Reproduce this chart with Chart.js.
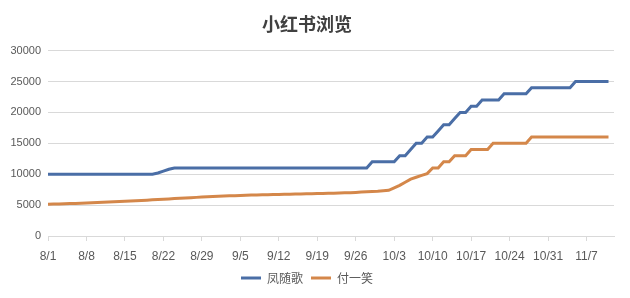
<!DOCTYPE html>
<html><head><meta charset="utf-8">
<script src="https://cdn.jsdelivr.net/npm/chart.js@4/dist/chart.umd.min.js"></script>
<style>html,body{margin:0;padding:0;background:#fff;}#wrap{position:relative;width:630px;height:298px;}</style>
</head><body><div id="wrap"><canvas id="c" width="630" height="298"></canvas></div>
<script>
const title = "小红书浏览";
const seriesNames = ["凤随歌", "付一笑"];
const categories = [
"8/1","8/2","8/3","8/4","8/5","8/6","8/7","8/8","8/9","8/10","8/11","8/12","8/13","8/14","8/15","8/16","8/17","8/18","8/19","8/20","8/21","8/22","8/23","8/24","8/25","8/26","8/27","8/28","8/29","8/30","8/31",
"9/1","9/2","9/3","9/4","9/5","9/6","9/7","9/8","9/9","9/10","9/11","9/12","9/13","9/14","9/15","9/16","9/17","9/18","9/19","9/20","9/21","9/22","9/23","9/24","9/25","9/26","9/27","9/28","9/29","9/30",
"10/1","10/2","10/3","10/4","10/5","10/6","10/7","10/8","10/9","10/10","10/11","10/12","10/13","10/14","10/15","10/16","10/17","10/18","10/19","10/20","10/21","10/22","10/23","10/24","10/25","10/26","10/27","10/28","10/29","10/30","10/31",
"11/1","11/2","11/3","11/4","11/5","11/6","11/7","11/8","11/9","11/10","11/11","11/12"];
const seriesA = [
10000,10000,10000,10000,10000,10000,10000,10000,10000,10000,
10000,10000,10000,10000,10000,10000,10000,10000,10000,10000,
10200,10500,10800,
11000,11000,11000,11000,11000,11000,11000,11000,11000,11000,11000,11000,
11000,11000,11000,11000,11000,11000,11000,11000,11000,11000,11000,11000,
11000,11000,11000,11000,11000,11000,11000,11000,11000,11000,11000,11000,
12000,12000,12000,12000,12000,
13000,13000,14000,15000,15000,16000,16000,17000,18000,18000,19000,20000,20000,21000,21000,
22000,22000,22000,22000,
23000,23000,23000,23000,23000,
24000,24000,24000,24000,24000,24000,24000,24000,
25000,25000,25000,25000,25000,25000,25000,
null];
const seriesB = [
5150,5170,5190,5210,5240,5270,5300,5340,5380,5420,
5460,5500,5540,5580,5620,5660,5700,5750,5800,5850,
5900,5950,6000,6050,6100,6150,6200,6250,6300,6340,
6380,6420,6460,6500,6530,6560,6590,6620,6640,6660,
6680,6700,6720,6740,6760,6780,6800,6820,6840,6860,
6880,6900,6920,6950,6980,7010,7050,7100,7150,7200,
7250,7320,
7400,7800,8200,8700,9200,9500,9800,10100,11000,11000,12000,12000,
13000,13000,13000,14000,14000,14000,14000,
15000,15000,15000,15000,15000,15000,15000,
16000,16000,16000,16000,16000,16000,16000,16000,16000,16000,16000,16000,16000,16000,16000,
null];
const yTicks = [0,5000,10000,15000,20000,25000,30000];

const blue = "#4a6ea6", orange = "#d4874a";
new Chart(document.getElementById("c"), {
  type: "line",
  data: {
    labels: categories,
    datasets: [
      {label: seriesNames[0], data: seriesA, borderColor: blue, backgroundColor: blue, borderWidth: 3, pointRadius: 0, tension: 0},
      {label: seriesNames[1], data: seriesB, borderColor: orange, backgroundColor: orange, borderWidth: 3, pointRadius: 0, tension: 0}
    ]
  },
  options: {
    responsive: false, animation: false, devicePixelRatio: 1,
    layout: {padding: {left: 0, right: 16, top: 10, bottom: 4}},
    plugins: {
      tooltip: {enabled: false},
      title: {display: true, text: title, color: "#404040",
        font: {family: "'Noto Sans CJK SC'", size: 18, weight: "bold"}, padding: {top: 3, bottom: 16}},
      legend: {position: "bottom", labels: {usePointStyle: true, pointStyle: "line", pointStyleWidth: 20, boxHeight: 3,
        color: "#595959", font: {family: "'Noto Sans CJK SC'", size: 12}, padding: 8}}
    },
    scales: {
      x: {
        type: "category", offset: false,
        afterBuildTicks: s => { s.ticks = s.ticks.filter((t, i) => i % 7 === 0); },
        afterFit: s => { s.height = 28; },
        grid: {drawOnChartArea: false, drawTicks: true, tickLength: 5, color: "#d9d9d9"},
        border: {display: true, color: "#d9d9d9"},
        ticks: {autoSkip: false, maxRotation: 0, color: "#595959", padding: 8, font: {family: "'Liberation Sans'", size: 12}}
      },
      y: {
        min: 0, max: 30000,
        afterBuildTicks: s => { s.ticks = yTicks.map(v => ({value: v})); },
        afterFit: s => { s.width = 48; },
        grid: {color: "#d9d9d9", drawTicks: false},
        border: {display: false},
        ticks: {color: "#595959", padding: 7, callback: v => String(v), font: {family: "'Liberation Sans'", size: 11}}
      }
    }
  }
});
</script></body></html>
